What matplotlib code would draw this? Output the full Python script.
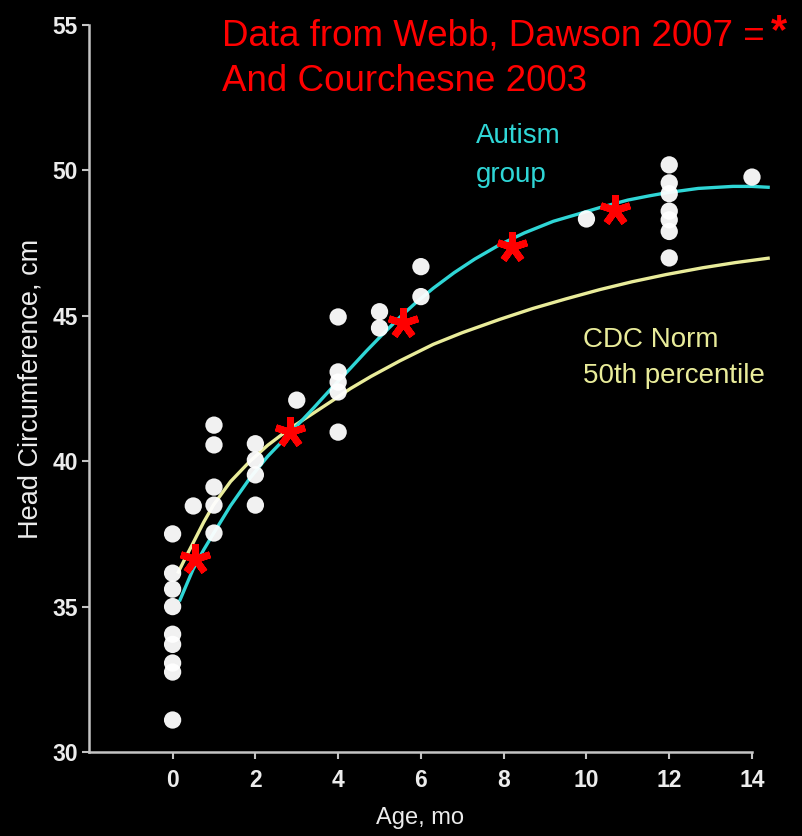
import matplotlib
matplotlib.use("Agg")
import matplotlib.pyplot as plt
from matplotlib import font_manager as fm

# ---- data ----
age_ticks = [0, 2, 4, 6, 8, 10, 12, 14]
hc_ticks = [30, 35, 40, 45, 50, 55]

subject_age = [0] * 9 + [0.5] + [1] * 5 + [2] * 4 + [3] + [4] * 5 + [5] * 2 + [6] * 2 + [10] + [12] * 7 + [14]
subject_hc = [37.5, 36.15, 35.6, 35.0, 34.05, 33.7, 33.06, 32.75, 31.1,
              38.46,
              41.24, 40.56, 39.11, 38.49, 37.53,
              40.6, 40.04, 39.53, 38.49,
              42.1,
              44.96, 43.07, 42.72, 42.38, 41.0,
              45.14, 44.58,
              46.69, 45.66,
              48.33,
              50.19, 49.57, 49.2, 48.6, 48.3, 47.9, 46.99,
              49.77]

# Webb & Dawson 2007 / Courchesne 2003 (red asterisks)
webb_age = [0.53, 2.84, 5.57, 8.2, 10.7]
webb_hc = [36.62, 41.01, 44.74, 47.36, 48.64]

# traced fit curves
autism_age = [0.18, 0.35, 0.5, 0.75, 0.99, 1.4, 1.87, 2.3, 2.84, 3.4, 3.88, 4.3, 4.69,
              5.1, 5.49, 5.9, 6.3, 6.8, 7.3, 7.91, 8.5, 9.2, 9.8, 10.32, 11.0, 11.5,
              11.93, 12.7, 13.54, 14.0, 14.39]
autism_hc = [35.23, 35.8, 36.3, 36.95, 37.52, 38.47, 39.42, 40.17, 40.97, 41.82, 42.57, 43.2, 43.8,
             44.4, 44.95, 45.48, 45.95, 46.48, 46.95, 47.45, 47.85, 48.25, 48.5, 48.72, 48.98, 49.12,
             49.23, 49.38, 49.45, 49.45, 49.42]

cdc_age = [0.14, 0.3, 0.5, 0.75, 0.99, 1.4, 1.87, 2.3, 2.84, 3.4, 3.88, 4.3, 4.8, 5.49,
           6.3, 7.0, 7.91, 8.7, 9.5, 10.32, 11.1, 11.93, 12.8, 13.6, 14.39]
cdc_hc = [36.19, 36.65, 37.2, 37.9, 38.5, 39.3, 40.0, 40.55, 41.13, 41.65, 42.1, 42.5, 42.92, 43.45,
          44.02, 44.42, 44.88, 45.25, 45.58, 45.9, 46.17, 46.42, 46.65, 46.83, 46.98]


def pick(names):
    for n in names:
        try:
            fm.findfont(fm.FontProperties(family=n), fallback_to_default=False)
            return n
        except ValueError:
            pass
    return "DejaVu Sans"


SANS = pick(["Liberation Sans", "Arial"])

CYAN = "#2fd6d6"
YELLOW = "#e9ec9a"
AXC = "#c4c4c4"
TXT = "#ececec"

fig = plt.figure(figsize=(8.03, 8.36), dpi=100, facecolor="black")
ax = fig.add_axes([89 / 803, 84 / 836, 663 / 803, 727 / 836], facecolor="black")

ax.plot(cdc_age, cdc_hc, color=YELLOW, lw=2.4, clip_on=False, zorder=2,
        solid_joinstyle="round")
ax.plot(autism_age, autism_hc, color=CYAN, lw=2.4, clip_on=False, zorder=3,
        solid_joinstyle="round")
ax.scatter(subject_age, subject_hc, s=155, color="white", edgecolors="none",
           alpha=0.95, zorder=4, clip_on=False)
ax.plot(webb_age, webb_hc, ls="none", marker=(5, 2, 0), ms=22, mew=5,
        color="red", zorder=5)

ax.set_xlim(-2.02, 14)
ax.set_ylim(30, 55)
ax.set_xticks(age_ticks)
ax.set_yticks(hc_ticks)
for s in ["top", "right"]:
    ax.spines[s].set_visible(False)
for s in ["left", "bottom"]:
    ax.spines[s].set_color(AXC)
    ax.spines[s].set_linewidth(1.8)
ax.tick_params(colors=AXC, length=5, width=1.5)
for lab in ax.get_xticklabels() + ax.get_yticklabels():
    lab.set_fontfamily(SANS)
    lab.set_fontsize(16.5)
    lab.set_fontweight("bold")
    lab.set_color(TXT)
ax.tick_params(axis="x", pad=7)
ax.tick_params(axis="y", pad=3)

ax.set_xlabel("Age, mo", fontfamily=SANS, fontsize=17, color=TXT, labelpad=11)
ax.set_ylabel("Head Circumference, cm", fontfamily=SANS, fontsize=19.5,
              color=TXT, labelpad=6)

# annotations
ax.text(476 / 803, 1 - 143 / 836, "Autism", transform=fig.transFigure,
        fontfamily=SANS, fontsize=20, color=CYAN, va="baseline")
ax.text(476 / 803, 1 - 182 / 836, "group", transform=fig.transFigure,
        fontfamily=SANS, fontsize=20, color=CYAN, va="baseline")
ax.text(583 / 803, 1 - 347 / 836, "CDC Norm", transform=fig.transFigure,
        fontfamily=SANS, fontsize=20, color=YELLOW, va="baseline")
ax.text(583 / 803, 1 - 383 / 836, "50th percentile", transform=fig.transFigure,
        fontfamily=SANS, fontsize=20, color=YELLOW, va="baseline")

fig.text(222 / 803, 1 - 46 / 836, "Data from Webb, Dawson 2007 =",
         fontfamily=SANS, fontsize=26.5, color="red", va="baseline")
fig.text(222 / 803, 1 - 91 / 836, "And Courchesne 2003",
         fontfamily=SANS, fontsize=26.5, color="red", va="baseline")
fig.text(779 / 803, 1 - 32 / 836, "*", fontfamily=SANS, fontsize=30,
         fontweight="bold", color="red", ha="center", va="center")

fig.savefig("out.png", dpi=100, facecolor="black")
